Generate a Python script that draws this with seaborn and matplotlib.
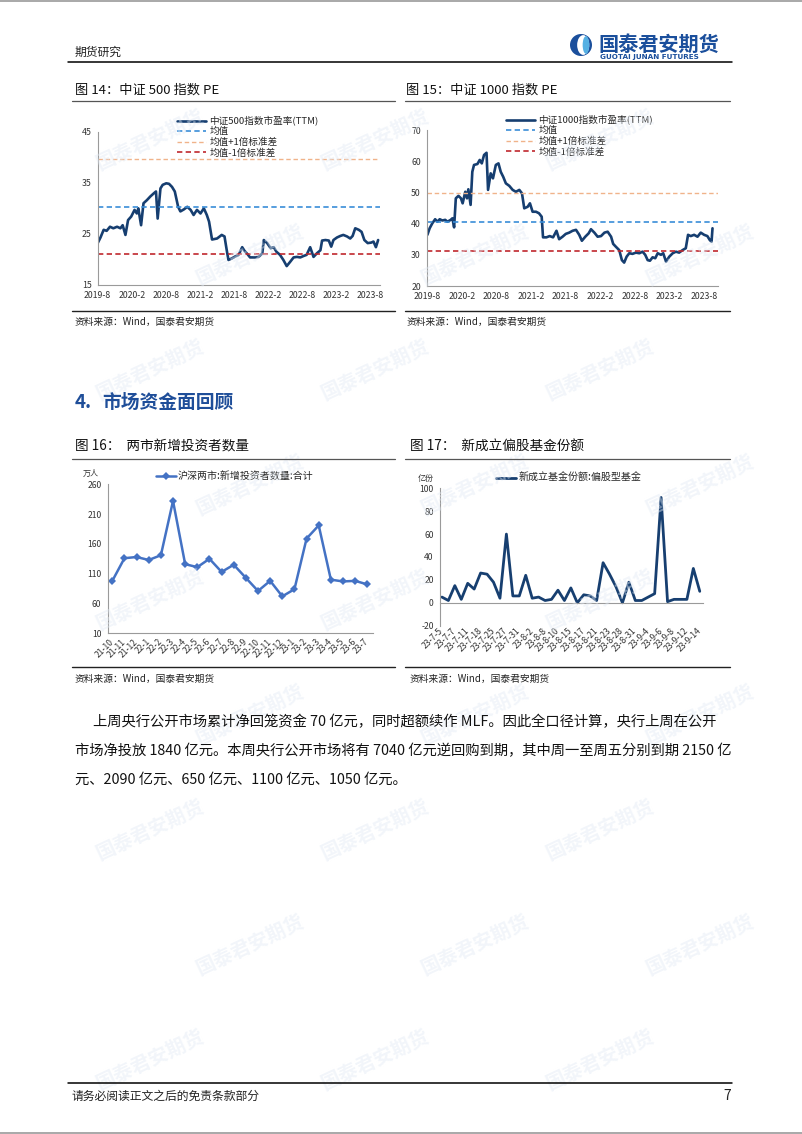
import numpy as np
import pandas as pd
import matplotlib
matplotlib.use("Agg")
import matplotlib.pyplot as plt
import matplotlib.patches as mpatches
from matplotlib.lines import Line2D
import seaborn as sns

# ---------------- data ----------------
pe500_dates = [
    "2019-08-01", "2019-08-16", "2019-09-02", "2019-09-18", "2019-10-06", "2019-10-24",
    "2019-11-13", "2019-12-01", "2019-12-13", "2019-12-28", "2020-01-11", "2020-01-28",
    "2020-02-15", "2020-02-27", "2020-03-06", "2020-03-21", "2020-04-03", "2020-04-21",
    "2020-05-09", "2020-05-27", "2020-06-09", "2020-06-18", "2020-07-03", "2020-07-15",
    "2020-08-03", "2020-08-18", "2020-09-03", "2020-09-18", "2020-10-06", "2020-10-18",
    "2020-11-06", "2020-11-24", "2020-12-12", "2020-12-28", "2021-01-15", "2021-02-03",
    "2021-02-21", "2021-03-09", "2021-03-21", "2021-04-06", "2021-05-03", "2021-05-28",
    "2021-06-12", "2021-06-24", "2021-07-03", "2021-07-21", "2021-08-09", "2021-08-27",
    "2021-09-15", "2021-09-27", "2021-10-12", "2021-10-27", "2021-11-24", "2021-12-12",
    "2022-01-01", "2022-01-09", "2022-01-27", "2022-02-15", "2022-03-03", "2022-03-18",
    "2022-04-06", "2022-04-24", "2022-05-12", "2022-06-01", "2022-06-18", "2022-07-06",
    "2022-07-24", "2022-08-12", "2022-08-27", "2022-09-15", "2022-10-03", "2022-10-21",
    "2022-11-09", "2022-11-18", "2022-12-06", "2022-12-24", "2023-01-06", "2023-01-18",
    "2023-02-06", "2023-02-24", "2023-03-12", "2023-04-01", "2023-04-18", "2023-05-01",
    "2023-05-15", "2023-06-03", "2023-06-18", "2023-07-03", "2023-07-21", "2023-08-09",
    "2023-08-21", "2023-09-03", "2023-09-15",
]
pe500_values = [
    23.2, 24.3, 25.8, 25.6, 26.4, 26.1,
    26.4, 26.1, 26.7, 24.8, 27.7, 28.4,
    29.7, 29.0, 30.0, 26.7, 31.0, 31.6,
    32.3, 32.9, 33.3, 28.0, 33.9, 34.6,
    34.9, 34.8, 34.2, 33.3, 30.3, 29.4,
    29.8, 30.3, 29.7, 28.7, 29.7, 29.0,
    30.0, 28.7, 27.4, 23.9, 24.1, 24.8,
    24.5, 21.8, 19.9, 20.2, 20.6, 20.9,
    22.4, 21.7, 21.1, 20.4, 20.4, 20.5,
    21.2, 23.8, 23.2, 22.2, 22.4, 21.5,
    20.9, 19.9, 18.7, 19.6, 20.4, 20.5,
    20.4, 20.7, 20.9, 22.4, 20.5, 21.2,
    21.8, 23.7, 23.8, 23.7, 22.5, 23.8,
    24.3, 24.6, 24.8, 24.5, 24.1, 24.6,
    26.1, 25.8, 25.4, 23.8, 23.2, 23.3,
    23.5, 22.4, 23.8,
]
pe500_mean = 30.35
pe500_std = 9.25

pe1000_dates = [
    "2019-08-03", "2019-08-15", "2019-08-29", "2019-09-13", "2019-09-25", "2019-10-07",
    "2019-10-21", "2019-11-05", "2019-11-17", "2019-12-04", "2019-12-13", "2019-12-22",
    "2019-12-31", "2020-01-14", "2020-01-27", "2020-02-05", "2020-02-19", "2020-02-28",
    "2020-03-06", "2020-03-18", "2020-03-27", "2020-04-05", "2020-04-23", "2020-05-05",
    "2020-05-16", "2020-05-28", "2020-06-10", "2020-06-18", "2020-07-02", "2020-07-14",
    "2020-07-29", "2020-08-12", "2020-08-24", "2020-09-06", "2020-09-20", "2020-10-08",
    "2020-10-26", "2020-11-12", "2020-11-30", "2020-12-14", "2020-12-26", "2021-01-13",
    "2021-01-25", "2021-02-08", "2021-02-26", "2021-03-14", "2021-03-28", "2021-04-04",
    "2021-04-22", "2021-05-09", "2021-05-27", "2021-06-14", "2021-06-28", "2021-07-16",
    "2021-08-02", "2021-08-20", "2021-09-07", "2021-09-25", "2021-10-12", "2021-10-26",
    "2021-11-13", "2021-12-01", "2021-12-13", "2021-12-31", "2022-01-17", "2022-02-04",
    "2022-02-22", "2022-03-11", "2022-03-29", "2022-04-09", "2022-04-23", "2022-05-11",
    "2022-05-25", "2022-06-06", "2022-06-19", "2022-07-03", "2022-07-20", "2022-08-07",
    "2022-08-25", "2022-09-11", "2022-09-25", "2022-10-08", "2022-10-20", "2022-11-03",
    "2022-11-17", "2022-11-30", "2022-12-17", "2022-12-29", "2023-01-13", "2023-01-30",
    "2023-02-17", "2023-03-06", "2023-03-23", "2023-04-10", "2023-04-27", "2023-05-09",
    "2023-05-23", "2023-06-10", "2023-06-28", "2023-07-15", "2023-08-02", "2023-08-19",
    "2023-09-01", "2023-09-10", "2023-09-15",
]
pe1000_values = [
    36.4, 38.5, 40.1, 41.4, 40.6, 41.4,
    41.0, 41.2, 40.6, 41.2, 41.7, 38.8,
    48.1, 48.9, 48.1, 46.5, 50.2, 48.1,
    51.0, 46.0, 56.6, 58.8, 59.1, 60.4,
    59.3, 62.0, 62.7, 50.8, 56.1, 54.5,
    58.8, 59.3, 56.6, 55.0, 52.9, 52.1,
    50.8, 50.2, 50.8, 49.7, 44.9, 45.4,
    46.5, 43.8, 43.8, 43.3, 42.2, 35.6,
    35.6, 36.0, 35.6, 37.7, 35.0, 35.8,
    36.7, 37.1, 37.7, 38.0, 36.4, 34.5,
    35.8, 36.9, 38.2, 37.1, 35.8, 36.0,
    37.1, 37.4, 35.8, 33.5, 32.6, 31.5,
    28.3, 27.5, 29.4, 30.5, 30.3, 30.7,
    30.5, 31.0, 30.0, 28.3, 28.1, 29.2,
    28.9, 30.5, 30.0, 30.5, 27.8, 29.4,
    30.5, 31.0, 30.7, 31.5, 32.1, 36.4,
    36.0, 36.4, 35.8, 37.1, 36.4, 36.0,
    34.7, 34.2, 38.5,
]
pe1000_mean = 40.65
pe1000_std = 9.30

investor_months = ["21-10", "21-11", "21-12", "22-1", "22-2", "22-3", "22-4", "22-5",
                   "22-6", "22-7", "22-8", "22-9", "22-10", "22-11", "22-12", "23-1",
                   "23-2", "23-3", "23-4", "23-5", "23-6", "23-7"]
investor_values = [98, 136, 138, 133, 141, 232, 126, 121, 135, 113, 125, 103,
                   81, 98, 72, 84, 169, 191, 100, 97, 98, 92]

fund_dates = ["23-7-5", "23-7-6", "23-7-7", "23-7-10", "23-7-11", "23-7-14", "23-7-18",
              "23-7-21", "23-7-25", "23-7-26", "23-7-27", "23-7-28", "23-7-31", "23-8-1",
              "23-8-2", "23-8-4", "23-8-8", "23-8-9", "23-8-10", "23-8-14", "23-8-15",
              "23-8-16", "23-8-17", "23-8-18", "23-8-21", "23-8-22", "23-8-23", "23-8-25",
              "23-8-28", "23-8-29", "23-8-31", "23-9-1", "23-9-4", "23-9-5", "23-9-6",
              "23-9-7", "23-9-8", "23-9-11", "23-9-12", "23-9-13", "23-9-14"]
fund_values = [5, 2, 15, 3, 17, 12, 26, 25, 18, 4, 60, 6, 6, 24, 4, 5, 2, 3, 11, 2, 13,
               0, 7, 6, 2, 35, 25, 14, 0, 18, 2, 2, 5, 8, 92, 1, 3, 3, 3, 30, 10]

para_lines = [
    "上周央行公开市场累计净回笼资金 70 亿元，同时超额续作 MLF。因此全口径计算，央行上周在公开",
    "市场净投放 1840 亿元。本周央行公开市场将有 7040 亿元逆回购到期，其中周一至周五分别到期 2150 亿",
    "元、2090 亿元、650 亿元、1100 亿元、1050 亿元。",
]

# ---------------- style ----------------
sns.set_theme(style="white")
plt.rcParams['font.family'] = ['Noto Sans CJK SC', 'DejaVu Sans']
plt.rcParams['axes.unicode_minus'] = False

W, H = 802, 1134
fig = plt.figure(figsize=(W / 100, H / 100), dpi=100)
fig.patch.set_facecolor('white')

def fx(x): return x / W
def fy(y): return 1 - y / H
def box(l, t, r, b): return [l / W, 1 - b / H, (r - l) / W, (b - t) / H]

def ftext(x, y, s, **kw):
    kw.setdefault('va', 'center')
    return fig.text(fx(x), fy(y), s, **kw)

def hline(x0, x1, y, color='black', lw=1.0):
    fig.add_artist(Line2D([fx(x0), fx(x1)], [fy(y), fy(y)], color=color, lw=lw,
                          transform=fig.transFigure))

def logo_icon(cx, cy, r, outer, inner, alpha=1.0, z=3):
    fig.add_artist(mpatches.Ellipse((fx(cx), fy(cy)), 2 * r / W, 2 * r / H, color=outer,
                                    alpha=alpha, transform=fig.transFigure, zorder=z, lw=0))
    fig.add_artist(mpatches.Ellipse((fx(cx + 0.2 * r), fy(cy)), 1.1 * r / W, 1.8 * r / H,
                                    color='white', transform=fig.transFigure, zorder=z, lw=0))
    fig.add_artist(mpatches.Ellipse((fx(cx + 0.45 * r), fy(cy)), 0.6 * r / W, 1.6 * r / H,
                                    color=inner, alpha=alpha, transform=fig.transFigure,
                                    zorder=z, lw=0))

# ---------------- watermarks ----------------
WM = '#e2eaf4'
for k in range(9):
    yy = 140 + 115 * k
    for j in range(3):
        xx = 150 + 225 * j + (k % 2) * 100
        ftext(xx, yy, "国泰君安期货", fontsize=14, color=WM, rotation=25, ha='center',
              fontweight='bold', alpha=0.45, zorder=0)

# page edges
hline(0, W, 0.5, color='#9a9a9a', lw=1.2)
hline(0, W, H - 1, color='#9a9a9a', lw=1.2)

# ---------------- header ----------------
ftext(75, 52, "期货研究", fontsize=8.5, color='#222222')
logo_icon(581, 45, 11, '#1b4f9c', '#55b0e3')
ftext(598, 44, "国泰君安期货", fontsize=14.5, color='#1b4f9c', fontweight='bold')
ftext(600, 57, "GUOTAI JUNAN FUTURES", fontsize=5.2, color='#1b4f9c', fontweight='bold',
      family=['DejaVu Sans'])
hline(68, 732, 62, color='black', lw=1.1)

NAVY = '#163e70'
TICKC = '#333333'
SPINE = '#9a9a9a'

def style_axes(ax, size=6.3):
    ax.patch.set_alpha(0)
    for s in ['top', 'right']:
        ax.spines[s].set_visible(False)
    for s in ['left', 'bottom']:
        ax.spines[s].set_color(SPINE)
        ax.spines[s].set_linewidth(0.8)
    ax.tick_params(axis='both', labelsize=size, length=2.5, width=0.6, color=SPINE,
                   labelcolor=TICKC, pad=2, direction='out')
    ax.set_xlabel('')
    ax.set_ylabel('')

def pe_chart(rect, dates, vals, mean, std, name, ylim, yticks, xlim, leg_xy):
    ax = fig.add_axes(box(*rect))
    d = pd.to_datetime(dates)
    sns.lineplot(x=d, y=vals, ax=ax, color=NAVY, lw=1.9, label=name)
    dash = (0, (3.2, 2.0))
    ax.axhline(mean, color='#3a8ed8', lw=1.2, ls=dash, label='均值')
    ax.axhline(mean + std, color='#f0b38a', lw=1.0, ls=dash, label='均值+1倍标准差')
    ax.axhline(mean - std, color='#c0282e', lw=1.2, ls=dash, label='均值-1倍标准差')
    ax.set_ylim(*ylim)
    ax.set_yticks(yticks)
    ax.set_xlim(pd.Timestamp(xlim[0]), pd.Timestamp(xlim[1]))
    ticks = pd.date_range('2019-08-01', '2023-08-01', freq='6MS')
    ax.set_xticks(ticks)
    ax.set_xticklabels([f"{t.year}-{t.month}" for t in ticks])
    style_axes(ax)
    ax.legend(loc='upper left', bbox_to_anchor=(fx(leg_xy[0]), fy(leg_xy[1])),
              bbox_transform=fig.transFigure, frameon=False, fontsize=6.9,
              handlelength=3.0, handletextpad=0.4, labelspacing=0.14,
              borderpad=0, borderaxespad=0)
    return ax

# ---------------- figure 14 / 15 ----------------
ftext(75, 90, "图 14：中证 500 指数 PE", fontsize=9.5, color='#111111')
ftext(406, 90, "图 15：中证 1000 指数 PE", fontsize=9.5, color='#111111')
hline(72, 395, 100.5, color='#555555', lw=0.9)
hline(405, 730, 100.5, color='#555555', lw=0.9)

pe_chart((97.7, 131.7, 380, 285), pe500_dates, pe500_values, pe500_mean, pe500_std,
         '中证500指数市盈率(TTM)', (15, 45), [15, 25, 35, 45],
         ('2019-08-01', '2023-09-25'), (177, 116))
pe_chart((427, 130, 718, 286), pe1000_dates, pe1000_values, pe1000_mean, pe1000_std,
         '中证1000指数市盈率(TTM)', (20, 70), [20, 30, 40, 50, 60, 70],
         ('2019-08-01', '2023-10-14'), (506, 115))

hline(72, 395, 310.5, color='#222222', lw=1.0)
hline(405, 730, 310.5, color='#222222', lw=1.0)
ftext(75, 322, "资料来源：Wind，国泰君安期货", fontsize=7, color='#222222')
ftext(407, 322, "资料来源：Wind，国泰君安期货", fontsize=7, color='#222222')

# ---------------- section heading ----------------
ftext(75, 403, "4.", fontsize=13.5, color='#1f4e99', fontweight='bold')
ftext(102, 403, "市场资金面回顾", fontsize=13.5, color='#1f4e99', fontweight='bold')

# ---------------- figure 16 ----------------
ftext(75, 446, "图 16：  两市新增投资者数量", fontsize=9.8, color='#111111')
ftext(410, 446, "图 17：  新成立偏股基金份额", fontsize=9.8, color='#111111')
hline(72, 395, 458.5, color='#555555', lw=0.9)
hline(405, 730, 458.5, color='#555555', lw=0.9)

ax16 = fig.add_axes(box(107.7, 484.3, 373, 633.3))
sns.lineplot(x=investor_months, y=investor_values, ax=ax16, color='#4472c4', lw=1.8,
             marker='D', markersize=4.2, markeredgewidth=0, sort=False,
             label='沪深两市:新增投资者数量:合计')
ax16.set_xlim(-0.38, 21.47)
ax16.set_ylim(10, 260)
ax16.set_yticks([10, 60, 110, 160, 210, 260])
style_axes(ax16, 6.2)
ax16.set_xticks(range(len(investor_months)))
ax16.set_xticklabels(investor_months, rotation=45, ha='right', va='center',
                     rotation_mode='anchor')
ax16.tick_params(axis='x', pad=3, length=2)
ax16.legend(loc='center left', bbox_to_anchor=(fx(156), fy(476)),
            bbox_transform=fig.transFigure, frameon=False, fontsize=7.2,
            handlelength=2.0, handletextpad=0.2, borderpad=0, borderaxespad=0)
ftext(83, 473, "万人", fontsize=5.8, color='#333333')

# ---------------- figure 17 ----------------
ax17 = fig.add_axes(box(440, 488.3, 703, 625.7))
sns.lineplot(x=fund_dates, y=fund_values, ax=ax17, color='#173f70', lw=2.0, sort=False,
             label='新成立基金份额:偏股型基金')
ax17.set_xlim(-0.3, 40.5)
ax17.set_ylim(-20, 100)
ax17.set_yticks([-20, 0, 20, 40, 60, 80, 100])
style_axes(ax17, 6.2)
ax17.spines['bottom'].set_position(('data', 0))
ax17.set_xticks(range(0, len(fund_dates), 2))
ax17.set_xticklabels(fund_dates[::2], rotation=45, ha='right', va='center',
                     rotation_mode='anchor')
ax17.tick_params(axis='x', pad=17, length=2)
ax17.legend(loc='center left', bbox_to_anchor=(fx(496), fy(478)),
            bbox_transform=fig.transFigure, frameon=False, fontsize=7.2,
            handlelength=2.0, handletextpad=0.3, borderpad=0, borderaxespad=0)
ftext(418, 478, "亿份", fontsize=5.8, color='#333333')

hline(72, 395, 667, color='#222222', lw=1.0)
hline(405, 730, 667, color='#222222', lw=1.0)
ftext(75, 679, "资料来源：Wind，国泰君安期货", fontsize=7, color='#222222')
ftext(410, 679, "资料来源：Wind，国泰君安期货", fontsize=7, color='#222222')

# ---------------- paragraph ----------------
ftext(93, 722, para_lines[0], fontsize=10.3, color='#111111')
ftext(75, 751, para_lines[1], fontsize=10.3, color='#111111')
ftext(75, 780, para_lines[2], fontsize=10.3, color='#111111')

# ---------------- footer ----------------
hline(68, 732, 1083, color='black', lw=1.1)
ftext(72, 1096, "请务必阅读正文之后的免责条款部分", fontsize=8.5, color='#222222')
ftext(731, 1096, "7", fontsize=10, color='#222222', ha='right')

fig.savefig('out.png', dpi=100)
